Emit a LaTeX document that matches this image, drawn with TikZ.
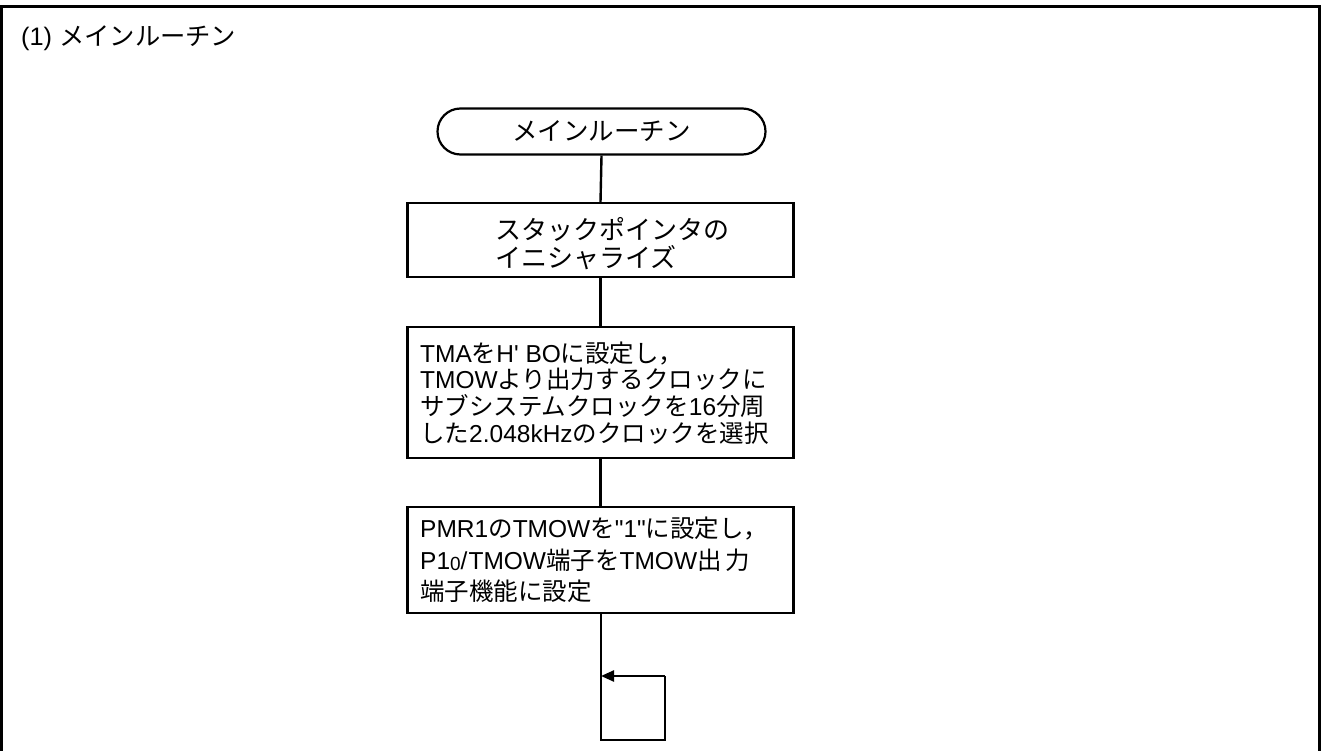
\documentclass[tikz,border=0pt]{standalone}
\usepackage{fontspec}
\setmainfont{Liberation Sans}[Ligatures=TeXOff]
\newfontfamily\jp{Noto Sans CJK JP}
\usetikzlibrary{arrows.meta,shapes.misc}
\tikzset{
  procbox/.style={draw, line width=2.2pt, minimum width=386pt, inner sep=0pt, fill=white},
  termbox/.style={draw, line width=2.2pt, rounded rectangle, minimum width=328pt, minimum height=46pt, inner sep=0pt, font=\fontsize{25.5}{28}\selectfont},
  conn/.style={line width=2.4pt},
  btext/.style={anchor=west, align=left, inner sep=0pt},
}
\begin{document}
\begin{tikzpicture}[x=1pt,y=-1pt]
\useasboundingbox (0,0) rectangle (1321,751);
% outer frame (open at the bottom)
\draw[line width=2.7pt] (1.5,751) -- (1.5,6.5) -- (1319.5,6.5) -- (1319.5,751);
\node[anchor=west, inner sep=0pt, font=\fontsize{25.3}{28}\selectfont] (title) at (21,38) {(1) {\jp メインルーチン}};
% flow
\node[termbox] (term) at (601.5,131.5) {\jp メインルーチン};
\node[procbox, minimum height=74pt] (b2) at (600.5,240) {};
\node[procbox, minimum height=131pt] (b3) at (600.5,392.5) {};
\node[procbox, minimum height=106pt] (b4) at (600.5,560) {};
\node[btext, font=\fontsize{26}{28}\selectfont\jp] (t2) at (495,244) {スタックポインタの\\イニシャライズ};
\node[btext, font=\fontsize{24.5}{26.8}\selectfont] (t3) at (420,393) {TMA{\jp を}H' BO{\jp に設定し，}\\TMOW{\jp より出力するクロックに}\\{\jp サブシステムクロックを}16{\jp 分周}\\{\jp した}2.048kHz{\jp のクロックを選択}};
\node[btext, font=\fontsize{24.5}{31.5}\selectfont] (t4) at (420,560) {PMR1{\jp の}TMOW{\jp を}"1"{\jp に設定し，}\\P1\raisebox{-0.1ex}{\fontsize{19}{19}\selectfont 0}/\hspace{1pt}TMOW{\jp 端子を}TMOW{\jp 出\hspace{4pt}力}\\{\jp 端子機能に設定}};
\draw[conn] (term.south) -- (b2.north);
\draw[conn] (b2.south) -- (b3.north);
\draw[conn] (b3.south) -- (b4.north);
\coordinate (l1) at (601,740);
\coordinate (l2) at (665,740);
\coordinate (l3) at (665,676);
\coordinate (l4) at (601,676);
\draw[conn] (b4.south -| l1) -- (l1) -- (l2) -- (l3);
\draw[conn, -{Triangle[length=13pt,width=11pt]}] (l3) -- (l4);
\end{tikzpicture}
\end{document}
